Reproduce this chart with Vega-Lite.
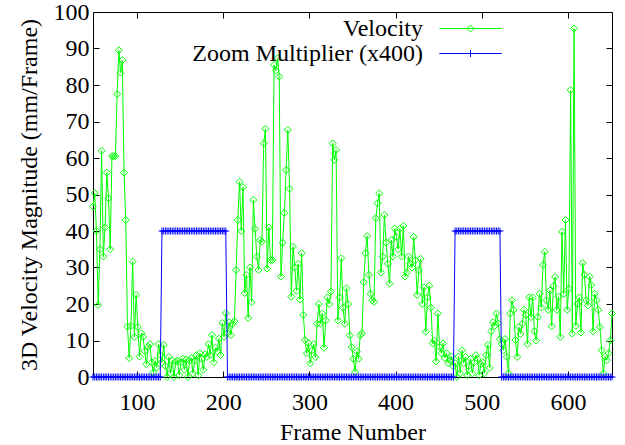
{
"$schema": "https://vega.github.io/schema/vega-lite/v6.json",
"width": 519, "height": 365,
"autosize": "none",
"padding": {"left": 93, "top": 12, "right": 13, "bottom": 68},
"background": "white",
"config": {
  "view": {"stroke": "black", "strokeWidth": 1},
  "font": "Liberation Serif, Times New Roman, serif",
  "axis": {"grid": false, "domain": false, "tickColor": "black", "tickSize": -6, "tickWidth": 1,
    "labelFont": "Liberation Serif, Times New Roman, serif", "labelFontSize": 24, "labelColor": "black",
    "titleFont": "Liberation Serif, Times New Roman, serif", "titleFontSize": 24, "titleFontWeight": "normal", "titleColor": "black"},
  "legend": {"labelFont": "Liberation Serif, Times New Roman, serif"}
},
"data": {"values": [
{"f":49,"v":46.7,"z":0},{"f":51,"v":50.4,"z":0},{"f":53,"v":40,"z":0},{"f":55,"v":19.7,"z":0},{"f":57,"v":35,"z":0},{"f":59,"v":62,"z":0},{"f":61,"v":33,"z":0},{"f":63,"v":41,"z":0},{"f":65,"v":56,"z":0},{"f":67,"v":49,"z":0},
{"f":69,"v":35,"z":0},{"f":71,"v":60.5,"z":0},{"f":73,"v":60.5,"z":0},{"f":75,"v":60.5,"z":0},{"f":77,"v":77.5,"z":0},{"f":79,"v":89.5,"z":0},{"f":81,"v":83.4,"z":0},{"f":83,"v":86.8,"z":0},{"f":85,"v":56,"z":0},{"f":87,"v":43,"z":0},
{"f":89,"v":13.8,"z":0},{"f":91,"v":5.2,"z":0},{"f":93,"v":14,"z":0},{"f":95,"v":31.6,"z":0},{"f":97,"v":11,"z":0},{"f":99,"v":22.5,"z":0},{"f":101,"v":13.7,"z":0},{"f":103,"v":5.6,"z":0},{"f":105,"v":12,"z":0},{"f":107,"v":11,"z":0},
{"f":109,"v":7.1,"z":0},{"f":111,"v":3.5,"z":0},{"f":113,"v":8.3,"z":0},{"f":115,"v":9,"z":0},{"f":117,"v":4,"z":0},{"f":119,"v":1.2,"z":0},{"f":121,"v":4.4,"z":0},{"f":123,"v":2.6,"z":0},{"f":125,"v":9,"z":0},{"f":127,"v":6,"z":0},
{"f":129,"v":4,"z":40},{"f":131,"v":8.8,"z":40},{"f":133,"v":3,"z":40},{"f":135,"v":0,"z":40},{"f":137,"v":5.5,"z":40},{"f":139,"v":1,"z":40},{"f":141,"v":4.5,"z":40},{"f":143,"v":0,"z":40},{"f":145,"v":4.2,"z":40},{"f":147,"v":4.5,"z":40},
{"f":149,"v":0.5,"z":40},{"f":151,"v":4,"z":40},{"f":153,"v":5,"z":40},{"f":155,"v":2,"z":40},{"f":157,"v":4.8,"z":40},{"f":159,"v":0,"z":40},{"f":161,"v":4.5,"z":40},{"f":163,"v":5.2,"z":40},{"f":165,"v":1,"z":40},{"f":167,"v":4.5,"z":40},
{"f":169,"v":6,"z":40},{"f":171,"v":0.5,"z":40},{"f":173,"v":6.5,"z":40},{"f":175,"v":5,"z":40},{"f":177,"v":2,"z":40},{"f":179,"v":6.2,"z":40},{"f":181,"v":5.5,"z":40},{"f":183,"v":9,"z":40},{"f":185,"v":6,"z":40},{"f":187,"v":11.5,"z":40},
{"f":189,"v":4,"z":40},{"f":191,"v":8,"z":40},{"f":193,"v":7,"z":40},{"f":195,"v":10.5,"z":40},{"f":197,"v":6,"z":40},{"f":199,"v":14.8,"z":40},{"f":201,"v":11,"z":40},{"f":203,"v":17.5,"z":40},{"f":205,"v":12,"z":0},{"f":207,"v":15,"z":0},
{"f":209,"v":11.5,"z":0},{"f":211,"v":14.5,"z":0},{"f":213,"v":15.3,"z":0},{"f":215,"v":29.3,"z":0},{"f":217,"v":43,"z":0},{"f":219,"v":53.5,"z":0},{"f":221,"v":40,"z":0},{"f":223,"v":52,"z":0},{"f":225,"v":23,"z":0},{"f":227,"v":28,"z":0},
{"f":229,"v":16.2,"z":0},{"f":231,"v":30,"z":0},{"f":233,"v":20.5,"z":0},{"f":235,"v":48.5,"z":0},{"f":237,"v":40.6,"z":0},{"f":239,"v":33,"z":0},{"f":241,"v":29.3,"z":0},{"f":243,"v":37.5,"z":0},{"f":245,"v":37.1,"z":0},{"f":247,"v":64,"z":0},
{"f":249,"v":68,"z":0},{"f":251,"v":29.7,"z":0},{"f":253,"v":41,"z":0},{"f":255,"v":32,"z":0},{"f":257,"v":32,"z":0},{"f":259,"v":85.5,"z":0},{"f":261,"v":84,"z":0},{"f":263,"v":87.3,"z":0},{"f":265,"v":82.3,"z":0},{"f":267,"v":27.5,"z":0},
{"f":269,"v":36.8,"z":0},{"f":271,"v":45,"z":0},{"f":273,"v":56.7,"z":0},{"f":275,"v":67.7,"z":0},{"f":277,"v":51.6,"z":0},{"f":279,"v":22,"z":0},{"f":281,"v":35.7,"z":0},{"f":283,"v":30,"z":0},{"f":285,"v":23.6,"z":0},{"f":287,"v":31,"z":0},
{"f":289,"v":21.2,"z":0},{"f":291,"v":33.9,"z":0},{"f":293,"v":17,"z":0},{"f":295,"v":10.1,"z":0},{"f":297,"v":6.5,"z":0},{"f":299,"v":9.3,"z":0},{"f":301,"v":3.7,"z":0},{"f":303,"v":7.3,"z":0},{"f":305,"v":9,"z":0},{"f":307,"v":5.4,"z":0},
{"f":309,"v":14.6,"z":0},{"f":311,"v":20,"z":0},{"f":313,"v":14.6,"z":0},{"f":315,"v":17.4,"z":0},{"f":317,"v":8,"z":0},{"f":319,"v":15.5,"z":0},{"f":321,"v":21.8,"z":0},{"f":323,"v":20,"z":0},{"f":325,"v":23.4,"z":0},{"f":327,"v":64,"z":0},
{"f":329,"v":59.5,"z":0},{"f":331,"v":62.2,"z":0},{"f":333,"v":15.5,"z":0},{"f":335,"v":21.8,"z":0},{"f":337,"v":32.5,"z":0},{"f":339,"v":19,"z":0},{"f":341,"v":14.6,"z":0},{"f":343,"v":24.3,"z":0},{"f":345,"v":20,"z":0},{"f":347,"v":11.4,"z":0},
{"f":349,"v":8.2,"z":0},{"f":351,"v":5,"z":0},{"f":353,"v":1.4,"z":0},{"f":355,"v":7,"z":0},{"f":357,"v":5,"z":0},{"f":359,"v":11.4,"z":0},{"f":361,"v":12,"z":0},{"f":363,"v":26,"z":0},{"f":365,"v":33.9,"z":0},{"f":367,"v":38.6,"z":0},
{"f":369,"v":28,"z":0},{"f":371,"v":22.8,"z":0},{"f":373,"v":21,"z":0},{"f":375,"v":20.6,"z":0},{"f":377,"v":43.5,"z":0},{"f":379,"v":47.6,"z":0},{"f":381,"v":50.3,"z":0},{"f":383,"v":28.6,"z":0},{"f":385,"v":33,"z":0},{"f":387,"v":44.4,"z":0},
{"f":389,"v":36.8,"z":0},{"f":391,"v":31,"z":0},{"f":393,"v":25.6,"z":0},{"f":395,"v":37.5,"z":0},{"f":397,"v":33,"z":0},{"f":399,"v":40.7,"z":0},{"f":401,"v":38.4,"z":0},{"f":403,"v":35,"z":0},{"f":405,"v":40.6,"z":0},{"f":407,"v":33,"z":0},
{"f":409,"v":41.4,"z":0},{"f":411,"v":27.5,"z":0},{"f":413,"v":28.6,"z":0},{"f":415,"v":33,"z":0},{"f":417,"v":31,"z":0},{"f":419,"v":30,"z":0},{"f":421,"v":38.4,"z":0},{"f":423,"v":32,"z":0},{"f":425,"v":22.5,"z":0},{"f":427,"v":29.3,"z":0},
{"f":429,"v":32.4,"z":0},{"f":431,"v":20,"z":0},{"f":433,"v":24.6,"z":0},{"f":435,"v":12.4,"z":0},{"f":437,"v":21.8,"z":0},{"f":439,"v":25,"z":0},{"f":441,"v":19,"z":0},{"f":443,"v":9.2,"z":0},{"f":445,"v":10,"z":0},{"f":447,"v":4.3,"z":0},
{"f":449,"v":17.4,"z":0},{"f":451,"v":8.3,"z":0},{"f":453,"v":6.5,"z":0},{"f":455,"v":9.2,"z":0},{"f":457,"v":5.2,"z":0},{"f":459,"v":6.5,"z":0},{"f":461,"v":3.8,"z":0},{"f":463,"v":4.6,"z":0},{"f":465,"v":5.6,"z":0},{"f":467,"v":2.9,"z":0},
{"f":469,"v":3.8,"z":40},{"f":471,"v":0,"z":40},{"f":473,"v":5.6,"z":40},{"f":475,"v":1,"z":40},{"f":477,"v":7.3,"z":40},{"f":479,"v":3.8,"z":40},{"f":481,"v":5.5,"z":40},{"f":483,"v":0.5,"z":40},{"f":485,"v":3,"z":40},{"f":487,"v":5,"z":40},
{"f":489,"v":1,"z":40},{"f":491,"v":4,"z":40},{"f":493,"v":6,"z":40},{"f":495,"v":5,"z":40},{"f":497,"v":0.5,"z":40},{"f":499,"v":3.5,"z":40},{"f":501,"v":4,"z":40},{"f":503,"v":1,"z":40},{"f":505,"v":6,"z":40},{"f":507,"v":8.8,"z":40},
{"f":509,"v":2.5,"z":40},{"f":511,"v":12.5,"z":40},{"f":513,"v":15,"z":40},{"f":515,"v":14,"z":40},{"f":517,"v":17.4,"z":40},{"f":519,"v":14.7,"z":40},{"f":521,"v":10.4,"z":40},{"f":523,"v":9,"z":0},{"f":525,"v":7.3,"z":0},{"f":527,"v":10.4,"z":0},
{"f":529,"v":5.5,"z":0},{"f":531,"v":1,"z":0},{"f":533,"v":17.4,"z":0},{"f":535,"v":21,"z":0},{"f":537,"v":18.4,"z":0},{"f":539,"v":10.1,"z":0},{"f":541,"v":5.5,"z":0},{"f":543,"v":13.7,"z":0},{"f":545,"v":11.8,"z":0},{"f":547,"v":14.6,"z":0},
{"f":549,"v":18.4,"z":0},{"f":551,"v":17,"z":0},{"f":553,"v":9,"z":0},{"f":555,"v":21.8,"z":0},{"f":557,"v":16.4,"z":0},{"f":559,"v":21.8,"z":0},{"f":561,"v":12.5,"z":0},{"f":563,"v":10,"z":0},{"f":565,"v":16.4,"z":0},{"f":567,"v":22.8,"z":0},
{"f":569,"v":19,"z":0},{"f":571,"v":30.7,"z":0},{"f":573,"v":34.3,"z":0},{"f":575,"v":21,"z":0},{"f":577,"v":18.4,"z":0},{"f":579,"v":23.7,"z":0},{"f":581,"v":13.9,"z":0},{"f":583,"v":25,"z":0},{"f":585,"v":27.4,"z":0},{"f":587,"v":18.4,"z":0},
{"f":589,"v":22,"z":0},{"f":591,"v":11,"z":0},{"f":593,"v":39.8,"z":0},{"f":595,"v":22.8,"z":0},{"f":597,"v":43,"z":0},{"f":599,"v":18.4,"z":0},{"f":601,"v":24.2,"z":0},{"f":603,"v":78.6,"z":0},{"f":605,"v":11.9,"z":0},{"f":607,"v":95.5,"z":0},
{"f":609,"v":14,"z":0},{"f":611,"v":20,"z":0},{"f":613,"v":21.8,"z":0},{"f":615,"v":12.2,"z":0},{"f":617,"v":31.2,"z":0},{"f":619,"v":28,"z":0},{"f":621,"v":21,"z":0},{"f":623,"v":19.6,"z":0},{"f":625,"v":27.5,"z":0},{"f":627,"v":25.2,"z":0},
{"f":629,"v":12.5,"z":0},{"f":631,"v":22.8,"z":0},{"f":633,"v":21,"z":0},{"f":635,"v":18.4,"z":0},{"f":637,"v":13.7,"z":0},{"f":639,"v":7.3,"z":0},{"f":641,"v":1,"z":0},{"f":643,"v":5.6,"z":0},{"f":645,"v":4.6,"z":0},{"f":647,"v":6.5,"z":0},
{"f":649,"v":10,"z":0},{"f":651,"v":17.4,"z":0}
]},
"resolve": {"axis": {"x": "independent", "y": "independent"}},
"layer": [
  {"mark": {"type": "line", "strokeWidth": 1},
   "encoding": {
     "x": {"field": "f", "type": "quantitative", "scale": {"domain": [49, 651], "nice": false, "zero": false},
       "axis": {"orient": "bottom", "values": [100, 200, 300, 400, 500, 600], "title": "Frame Number", "labelPadding": 19, "titlePadding": 6}},
     "y": {"field": "v", "type": "quantitative", "scale": {"domain": [0, 100], "nice": false},
       "axis": {"orient": "left", "values": [0, 10, 20, 30, 40, 50, 60, 70, 80, 90, 100], "title": "3D Velocity Magnitude (mm/Frame)", "labelPadding": 10, "titlePadding": 12}},
     "color": {"datum": "Velocity", "type": "nominal",
       "scale": {"domain": ["Velocity", "Zoom Multiplier (x400)"], "range": ["#00ff00", "#0000ff"]},
       "legend": {"orient": "none", "legendX": 365, "legendY": 4, "title": null, "padding": 0,
         "labelFont": "Liberation Serif, Times New Roman, serif", "labelFontSize": 24, "labelColor": "black",
         "labelAlign": "right", "labelOffset": -60, "labelLimit": 400,
         "symbolSize": 576, "symbolStrokeWidth": 1, "symbolType": "M-2.6,0H2.6", "symbolFillColor": "transparent",
         "rowPadding": 0,
         "encode": {"symbols": {"update": {"shape": {"signal": "datum.value === 'Velocity' ? 'M-2.6,0H2.6M-0.29,0L0,-0.29L0.29,0L0,0.29Z' : 'M-2.6,0H2.6M0,-0.29V0.29'"}}}}}}
   }},
  {"mark": {"type": "point", "shape": "diamond", "filled": false, "size": 49, "color": "#00ff00", "strokeWidth": 1, "opacity": 1},
   "encoding": {
     "x": {"field": "f", "type": "quantitative", "axis": null},
     "y": {"field": "v", "type": "quantitative", "axis": null}}},
  {"mark": {"type": "line", "strokeWidth": 1},
   "encoding": {
     "x": {"field": "f", "type": "quantitative", "axis": {"orient": "top", "values": [100, 200, 300, 400, 500, 600], "labels": false, "title": null}},
     "y": {"field": "z", "type": "quantitative", "axis": {"orient": "right", "values": [0, 10, 20, 30, 40, 50, 60, 70, 80, 90, 100], "labels": false, "title": null}},
     "color": {"datum": "Zoom Multiplier (x400)", "type": "nominal"}}},
  {"mark": {"type": "point", "shape": "M-1,0H1M0,-1V1", "filled": false, "size": 49, "color": "#0000ff", "strokeWidth": 1, "opacity": 1},
   "encoding": {
     "x": {"field": "f", "type": "quantitative", "axis": null},
     "y": {"field": "z", "type": "quantitative", "axis": null}}}
]
}
